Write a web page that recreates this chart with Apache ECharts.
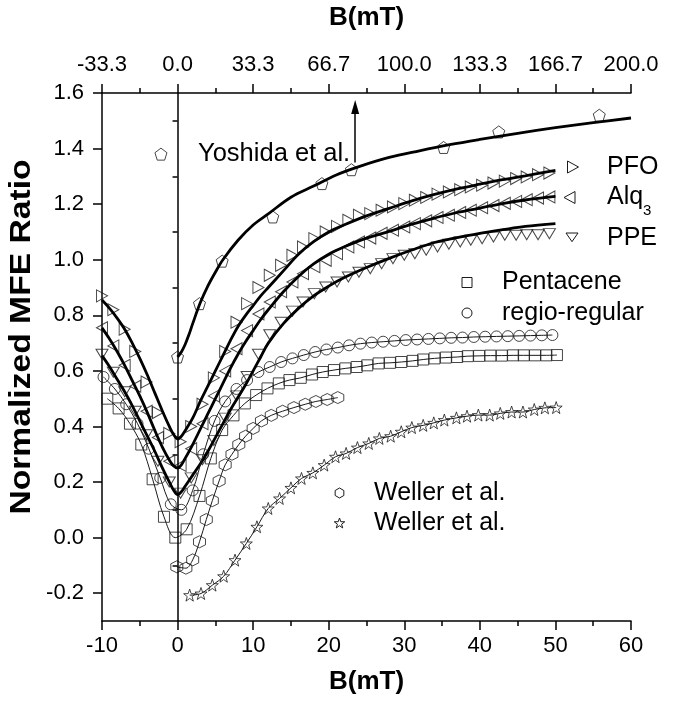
<!DOCTYPE html>
<html><head><meta charset="utf-8">
<script src="https://cdn.jsdelivr.net/npm/echarts@6/dist/echarts.min.js"></script>
<style>html,body{margin:0;padding:0;background:#fff}#c{width:673px;height:702px}</style>
</head><body><div id="c"></div>
<script>
// ---------- data ----------
const xTri = [-10.0,-8.5,-7.0,-5.6,-4.1,-2.6,-1.1,0.4,1.8,3.3,4.8,6.3,7.8,9.2,10.7,12.2,13.7,15.2,16.6,18.1,19.6,21.1,22.6,24.0,25.5,27.0,28.5,30.0,31.4,32.9,34.4,35.9,37.4,38.8,40.3,41.8,43.3,44.8,46.2,47.7,49.2];
const pfoY = [0.87,0.82,0.75,0.67,0.56,0.45,0.375,0.345,0.40,0.48,0.575,0.67,0.775,0.842,0.90,0.944,0.98,1.016,1.046,1.076,1.10,1.12,1.142,1.16,1.166,1.178,1.19,1.202,1.214,1.224,1.236,1.244,1.252,1.262,1.268,1.276,1.283,1.292,1.298,1.306,1.312];
const alqY = [0.755,0.69,0.62,0.545,0.455,0.36,0.275,0.26,0.32,0.41,0.51,0.60,0.68,0.745,0.805,0.848,0.885,0.92,0.95,0.975,0.998,1.022,1.046,1.064,1.078,1.095,1.106,1.118,1.13,1.14,1.152,1.16,1.17,1.178,1.187,1.195,1.203,1.21,1.216,1.222,1.226];
const ppeY = [0.66,0.595,0.525,0.455,0.37,0.275,0.20,0.16,0.215,0.28,0.35,0.43,0.51,0.58,0.66,0.73,0.775,0.815,0.848,0.878,0.902,0.92,0.938,0.955,0.968,0.986,1.004,1.016,1.022,1.034,1.046,1.056,1.064,1.07,1.076,1.082,1.088,1.088,1.09,1.09,1.094];

const fitX   = [-10,-9,-8,-7,-6,-5,-4,-3,-2,-1,-0.5,0,0.5,1,2,3,4,5,6,7,8,9,10,11,12,14,16,18,20,22,25,28,31,34,37,40,43,46,50];
const pfoFit = [0.855,0.825,0.79,0.75,0.70,0.645,0.585,0.52,0.455,0.395,0.37,0.355,0.365,0.385,0.43,0.49,0.545,0.60,0.655,0.71,0.76,0.80,0.835,0.87,0.90,0.96,1.02,1.065,1.10,1.125,1.158,1.185,1.212,1.235,1.255,1.272,1.288,1.302,1.322];
const alqFit = [0.755,0.715,0.67,0.62,0.565,0.51,0.45,0.385,0.325,0.275,0.258,0.25,0.262,0.285,0.335,0.39,0.445,0.50,0.555,0.61,0.66,0.705,0.745,0.785,0.82,0.885,0.94,0.985,1.02,1.046,1.078,1.102,1.128,1.15,1.17,1.186,1.202,1.215,1.228];
const ppeFit = [0.655,0.615,0.57,0.525,0.475,0.42,0.365,0.31,0.25,0.195,0.17,0.155,0.165,0.185,0.225,0.265,0.31,0.36,0.41,0.46,0.505,0.55,0.60,0.65,0.70,0.77,0.825,0.87,0.905,0.935,0.972,1.005,1.035,1.062,1.08,1.095,1.108,1.12,1.13];

const yoX = [-2.2,0,2.9,5.9,12.6,19.1,23.0,35.2,42.5,55.8];
const yoY = [1.38,0.65,0.842,0.995,1.154,1.274,1.324,1.404,1.46,1.52];
const yoFitX = [0,0.5,1,1.5,2,3,4,5,6,8,10,12,15,18,21,24,28,32,36,40,45,50,55,60];
const yoFitY = [0.65,0.668,0.695,0.73,0.77,0.845,0.905,0.955,1.0,1.07,1.125,1.165,1.225,1.265,1.305,1.335,1.368,1.392,1.414,1.433,1.455,1.475,1.493,1.51];

const pentX = [-9.3,-7.8,-6.3,-4.8,-3.3,-1.8,-0.3,1.2,2.9,4.4,5.9,7.4,8.9,10.4,11.9,13.4,14.8,16.3,17.8,19.2,20.7,22.2,23.7,25.1,26.6,28.1,29.6,31.1,32.5,34.0,35.5,37.0,38.4,39.9,41.4,42.9,44.4,45.8,47.3,48.8,50.2];
const pentY = [0.50,0.465,0.41,0.335,0.21,0.075,0.0,0.03,0.15,0.285,0.387,0.44,0.483,0.513,0.537,0.555,0.567,0.575,0.587,0.596,0.603,0.609,0.614,0.62,0.627,0.629,0.632,0.636,0.641,0.645,0.648,0.65,0.653,0.654,0.655,0.655,0.656,0.656,0.656,0.656,0.657];

const regX = [-9.8,-8.3,-6.8,-5.3,-3.8,-2.3,-0.9,0.5,2.0,3.4,4.9,6.3,7.8,9.2,10.7,12.2,13.7,15.2,16.7,18.2,19.7,21.2,22.7,24.2,25.7,27.2,28.7,30.2,31.7,33.2,34.7,36.2,37.7,39.2,40.7,42.2,43.7,45.2,46.7,48.2,49.6];
const regY = [0.578,0.535,0.48,0.41,0.32,0.215,0.12,0.10,0.17,0.30,0.42,0.49,0.535,0.567,0.596,0.614,0.632,0.645,0.657,0.668,0.677,0.684,0.692,0.698,0.702,0.705,0.708,0.711,0.713,0.715,0.717,0.719,0.72,0.722,0.723,0.724,0.725,0.726,0.727,0.728,0.729];

const hexX = [-0.1,1.1,2.0,2.9,3.8,4.6,5.5,6.3,7.2,8.1,9.0,10.0,11.1,12.4,13.9,15.4,16.9,18.3,19.8,21.2];
const hexY = [-0.105,-0.11,-0.08,-0.015,0.065,0.133,0.204,0.262,0.30,0.335,0.365,0.393,0.42,0.44,0.455,0.468,0.48,0.49,0.497,0.504];

const starX = [1.6,3.1,4.6,6.1,7.6,9.1,10.5,12.0,13.5,15.0,16.4,17.9,19.4,20.9,22.3,23.8,25.3,26.7,28.2,29.6,31.0,32.5,33.9,35.3,36.9,38.3,39.8,41.3,42.7,44.2,45.7,47.2,48.6,50.1];
const starY = [-0.207,-0.201,-0.171,-0.139,-0.081,-0.021,0.039,0.105,0.141,0.179,0.213,0.233,0.261,0.291,0.303,0.324,0.339,0.357,0.365,0.381,0.396,0.404,0.413,0.423,0.431,0.437,0.441,0.441,0.447,0.452,0.452,0.461,0.467,0.468];

const yMajor = [-0.2,0.0,0.2,0.4,0.6,0.8,1.0,1.2,1.4,1.6];
const yMinor = [-0.1,0.1,0.3,0.5,0.7,0.9,1.1,1.3,1.5];
const legendNames = ['PFO', 'Alq', 'PPE', 'Pentacene', 'regio-regular', 'Weller et al.', 'Weller et al.'];
const annotation = 'Yoshida et al.';
const yTitle = 'Normalized MFE Ratio';
const arrowX = 23.5, arrowFrom = 1.35, arrowTo = 1.55;

// ---------- styling ----------
const F = "'Liberation Sans', Arial, Helvetica, sans-serif";
const INK = '#1a1a1a';
// marker outlines on a 10x10 box
const SHAPES = {
  triR: [[0,0],[10,5],[0,10]],
  triL: [[10,0],[0,5],[10,10]],
  triD: [[0,0],[10,0],[5,8.66]],
  sq:   [[0,0],[10,0],[10,10],[0,10]],
  hex:  [[5,0],[9.33,2.5],[9.33,7.5],[5,10],[0.67,7.5],[0.67,2.5]],
  pent: [[5,0],[9.76,3.45],[7.94,9.05],[2.06,9.05],[0.24,3.45]],
  star: [[5,0],[6.18,3.38],[9.76,3.45],[6.9,5.62],[7.94,9.05],[5,7],[2.06,9.05],[3.1,5.62],[0.24,3.45],[3.82,3.38]]
};
const sym = k => 'path://M' + SHAPES[k].map(p => p[0] + ',' + p[1]).join('L') + 'Z';

const zip = (xs, ys) => xs.map((x, i) => [x, ys[i]]);
const hollow = {color: 'rgba(0,0,0,0)', borderColor: INK, borderWidth: 1};

function scatter(name, xs, ys, symbol, size) {
  return {type: 'scatter', name, data: zip(xs, ys), symbol, symbolSize: size,
          itemStyle: hollow, z: 2, silent: true};
}
function fit(name, xs, ys, width, extra) {
  return Object.assign({type: 'line', name, data: zip(xs, ys), smooth: 0.35, showSymbol: false,
          symbol: 'none', lineStyle: {color: '#000', width}, z: 3, silent: true}, extra || {});
}

const series = [
  fit('pfoFit', fitX, pfoFit, 2.8, {markLine: {silent: true, symbol: 'none', label: {show: false},
      lineStyle: {color: '#000', width: 1.5, type: 'solid'}, data: [{xAxis: 0}]}}),
  fit('alqFit', fitX, alqFit, 2.8),
  fit('ppeFit', fitX, ppeFit, 2.8),
  fit('yoFit', yoFitX, yoFitY, 2.8, {markLine: {silent: true, symbol: ['none', 'triangle'], symbolSize: [8, 14],
      label: {show: false}, lineStyle: {color: '#000', width: 1.5, type: 'solid'},
      data: [[{coord: [arrowX, arrowFrom]}, {coord: [arrowX, arrowTo]}]]}}),
  fit('pentLine', pentX, pentY, 1, {lineStyle: {color: INK, width: 1}}),
  fit('regLine', regX, regY, 1, {lineStyle: {color: INK, width: 1}}),
  fit('hexLine', hexX, hexY, 1, {lineStyle: {color: INK, width: 1}}),
  fit('starLine', starX, starY, 1, {lineStyle: {color: INK, width: 1}}),
  scatter('PFO', xTri, pfoY, sym('triR'), [11, 12]),
  scatter('Alq3', xTri, alqY, sym('triL'), [11, 12]),
  scatter('PPE', xTri, ppeY, sym('triD'), [12, 10]),
  scatter('Pentacene', pentX, pentY, sym('sq'), 11),
  scatter('regio-regular', regX, regY, 'circle', 11),
  scatter('WellerHex', hexX, hexY, sym('hex'), 12),
  scatter('WellerStar', starX, starY, sym('star'), 12),
  scatter('Yoshida', yoX, yoY, sym('pent'), 12)
];

// legend keys (drawn as graphics: icon + label)
const keyLayout = [
  {icon: 'triR', w: 11, h: 12, cx: 573,   cy: 167,   tx: 607},
  {icon: 'triL', w: 11, h: 12, cx: 569.5, cy: 197.5, tx: 607, sub: '3'},
  {icon: 'triD', w: 12, h: 10, cx: 572,   cy: 238,   tx: 607},
  {icon: 'sq',   w: 10, h: 10, cx: 467,   cy: 282.5, tx: 502},
  {icon: 'circ', w: 10, h: 10, cx: 467,   cy: 313,   tx: 502},
  {icon: 'hex',  w: 10, h: 10, cx: 339.5, cy: 493,   tx: 374},
  {icon: 'star', w: 11, h: 11, cx: 339.5, cy: 523.5, tx: 374}
];
const LEG_FS = 25;
const graphics = [];
keyLayout.forEach((k, i) => {
  if (k.icon === 'circ') {
    graphics.push({type: 'circle', silent: true, shape: {cx: k.cx, cy: k.cy, r: k.w / 2},
      style: {fill: 'none', stroke: INK, lineWidth: 1}});
  } else {
    const pts = SHAPES[k.icon].map(p => [k.cx - k.w / 2 + p[0] * k.w / 10, k.cy - k.h / 2 + p[1] * k.h / 10]);
    graphics.push({type: 'polygon', silent: true, shape: {points: pts},
      style: {fill: 'none', stroke: INK, lineWidth: 1}});
  }
  graphics.push({type: 'text', silent: true, x: k.tx, y: k.cy,
    style: {text: legendNames[i], fontSize: LEG_FS, fontFamily: F, fill: '#000', textAlign: 'left', textVerticalAlign: 'middle'}});
  if (k.sub) {
    graphics.push({type: 'text', silent: true, x: k.tx + 36, y: k.cy + 13,
      style: {text: k.sub, fontSize: 15, fontFamily: F, fill: '#000', textAlign: 'left', textVerticalAlign: 'middle'}});
  }
});
graphics.push({type: 'text', silent: true, x: 198, y: 154,
  style: {text: annotation, fontSize: 25.5, fontFamily: F, fill: '#000', textAlign: 'left', textVerticalAlign: 'middle'}});
graphics.push({type: 'text', silent: true, x: 22, y: 337, rotation: Math.PI / 2, scaleX: 1.16, scaleY: 1,
  style: {text: yTitle, fontSize: 29, fontWeight: 'bold', fontFamily: F, fill: '#000', textAlign: 'center', textVerticalAlign: 'middle'}});

const axisCommon = {
  type: 'value', min: -10, max: 60, interval: 10,
  axisLine: {show: true, onZero: false, lineStyle: {color: '#000', width: 1.5}},
  axisTick: {show: true, inside: false, length: 9, lineStyle: {color: '#000', width: 1.5}},
  minorTick: {show: true, splitNumber: 2, length: 5, lineStyle: {color: '#000', width: 1.5}},
  splitLine: {show: false},
  nameLocation: 'middle',
  nameTextStyle: {fontSize: 26, fontWeight: 'bold', color: '#000', fontFamily: F}
};

const option = {
  animation: false,
  backgroundColor: '#fff',
  grid: {left: 102, top: 93, right: 42, bottom: 81, containLabel: false},
  xAxis: [
    Object.assign({}, axisCommon, {position: 'bottom', name: 'B(mT)', nameGap: 48,
      axisLabel: {fontSize: 22, color: '#000', fontFamily: F, margin: 14}}),
    Object.assign({}, axisCommon, {position: 'top', name: 'B(mT)', nameGap: 62,
      axisLabel: {fontSize: 22, color: '#000', fontFamily: F, margin: 17,
                  formatter: v => (v * 10 / 3).toFixed(1)}})
  ],
  yAxis: [
    {type: 'value', min: -0.3, max: 1.6, position: 'left',
     axisLine: {show: true, onZero: false, lineStyle: {color: '#000', width: 1.5}},
     axisTick: {show: true, inside: false, length: 9, customValues: yMajor, lineStyle: {color: '#000', width: 1.5}},
     axisLabel: {customValues: yMajor, formatter: v => v.toFixed(1), fontSize: 22, color: '#000', fontFamily: F, margin: 18},
     splitLine: {show: false}},
    {type: 'value', min: -0.3, max: 1.6, position: 'left',
     axisLine: {show: false},
     axisTick: {show: true, inside: false, length: 5, customValues: yMinor, lineStyle: {color: '#000', width: 1.5}},
     axisLabel: {show: false}, splitLine: {show: false}}
  ],
  graphic: graphics,
  series
};

const chart = echarts.init(document.getElementById('c'), null, {renderer: 'canvas'});
chart.setOption(option);
</script>
</body></html>
